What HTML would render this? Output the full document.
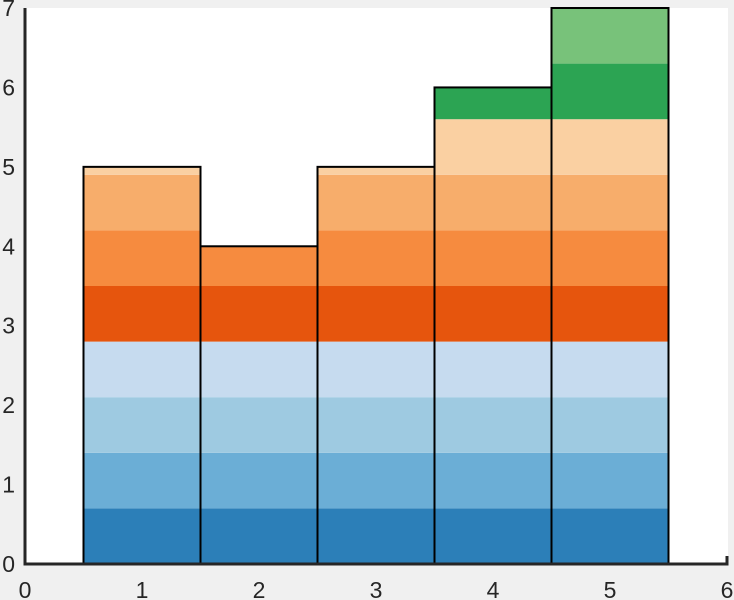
<!DOCTYPE html>
<html><head><meta charset="utf-8"><style>
body{margin:0;background:#f0f0f0;}
svg{display:block;font-family:"Liberation Sans",sans-serif;}
</style></head><body>
<svg id="chart" width="734" height="600" viewBox="0 0 734 600">
<rect x="25" y="8" width="703" height="556" fill="#ffffff"/>
<g id="bars"></g>
<g id="axes"></g>
</svg>
<script>
const categories = [1, 2, 3, 4, 5];
const bar1 = [0.7,0.7,0.7,0.7,0.7,0.7,0.7,0.1,0,0];
const bar2 = [0.7,0.7,0.7,0.7,0.7,0.5,0,0,0,0];
const bar3 = [0.7,0.7,0.7,0.7,0.7,0.7,0.7,0.1,0,0];
const bar4 = [0.7,0.7,0.7,0.7,0.7,0.7,0.7,0.7,0.4,0];
const bar5 = [0.7,0.7,0.7,0.7,0.7,0.7,0.7,0.7,0.7,0.7];
const xTicks = [0,1,2,3,4,5,6];
const yTicks = [0,1,2,3,4,5,6,7];
const colors = ["#2c7fb8","#6baed6","#9ecae1","#c6dbef","#e6550d","#f68b3f","#f7ad6b","#fad0a2","#2ca453","#78c27a"];
const series = [bar1,bar2,bar3,bar4,bar5];
const X = v => 25 + v*117;
const Y = v => 564 - v*(556/7);
const NS = "http://www.w3.org/2000/svg";
const bars = document.getElementById('bars');
const axes = document.getElementById('axes');
function mk(tag, attrs, parent){const e=document.createElementNS(NS,tag);for(const k in attrs)e.setAttribute(k,attrs[k]);parent.appendChild(e);return e;}
series.forEach((segs,i)=>{
  const c = categories[i];
  let base = 0;
  segs.forEach((v,j)=>{
    if(v<=0) return;
    const r = mk('rect',{x:X(c-0.5),y:Y(base+v),width:X(c+0.5)-X(c-0.5),height:Y(base)-Y(base+v),fill:colors[j]},bars);
    
    
    base += v;
  });
  const o = mk('rect',{x:X(c-0.5),y:Y(base),width:X(c+0.5)-X(c-0.5),height:Y(0)-Y(base),fill:'none',stroke:'#000','stroke-width':2},bars);
  
  
});
const ax = mk('path',{d:`M${X(0)} ${Y(7)} V${Y(0)} H${X(6)} V${Y(0)-8}`,fill:'none',stroke:'#262626','stroke-width':3},axes);


xTicks.forEach(t=>{
  const tx = mk('text',{x:X(t),y:598,'text-anchor':'middle','font-size':23,fill:'#262626'},axes);
  tx.textContent = t;
  
  
});
yTicks.forEach(t=>{
  const ty = mk('text',{x:15,y:Y(t)+8,'text-anchor':'end','font-size':23,fill:'#262626'},axes);
  ty.textContent = t;
  
  
});
</script>
</body></html>
